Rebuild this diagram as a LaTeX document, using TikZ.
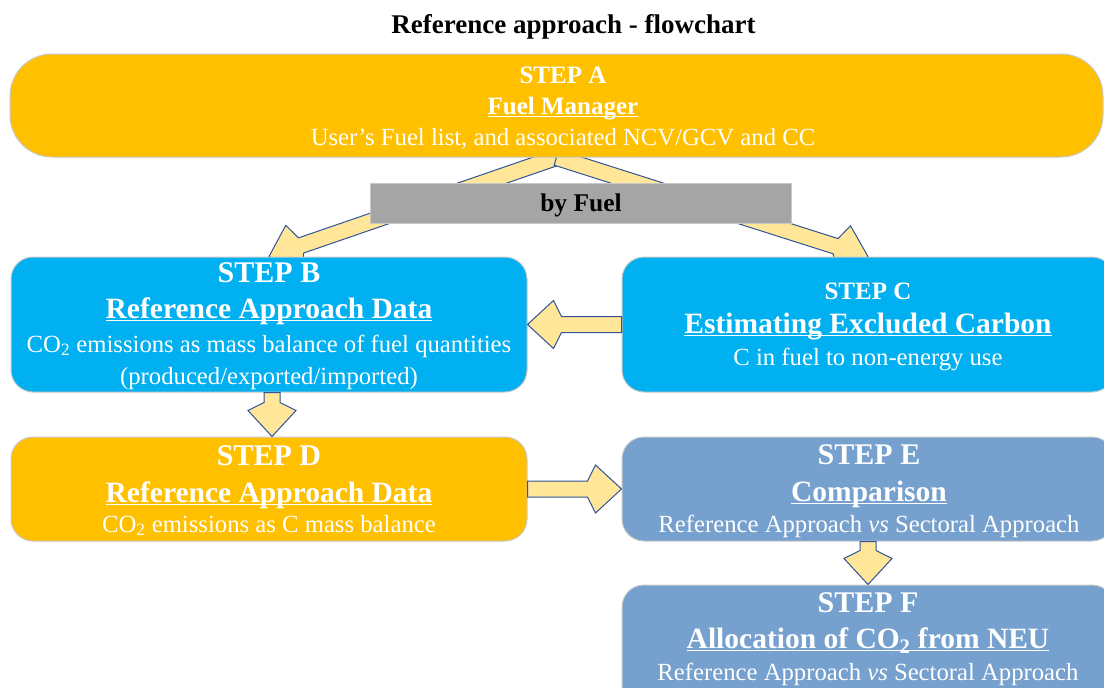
\documentclass[tikz,border=0pt]{standalone}
\usepackage{fontspec}
\setmainfont{Liberation Serif}
\usetikzlibrary{calc}
\pgfdeclarelayer{bg}
\pgfsetlayers{bg,main}
\newsavebox\ulxbox
\newcommand\ulx[1]{\sbox\ulxbox{#1}\rlap{\rule[-3pt]{\wd\ulxbox}{1pt}}\usebox\ulxbox}
\newcommand\fs[1]{\fontsize{#1}{#1}\selectfont}
\definecolor{ambar}{HTML}{FFC000}
\definecolor{cyanbox}{HTML}{00B0F0}
\definecolor{steelbox}{HTML}{76A0CD}
\definecolor{arrfill}{HTML}{FFE699}
\definecolor{arrline}{HTML}{2F5597}
\definecolor{greyband}{HTML}{A5A5A5}
\definecolor{boxedge}{HTML}{C8C8C8}
\tikzset{
  stepbox/.style={draw=boxedge, line width=1pt, rounded corners=22pt, inner sep=0pt},
  txt/.style={anchor=base, inner sep=0pt, text=white},
  bigstep/.style={txt, font=\fs{30}\bfseries},
  smallstep/.style={txt, font=\fs{25}\bfseries},
  headline/.style={txt, font=\fs{29.5}\bfseries},
  bodyline/.style={txt, font=\fs{24.7}},
  blockarrow/.style={fill=arrfill, draw=arrline, line width=1pt, line join=miter},
}
\newcommand\blockarr[2]{%
  \path ($(#2)!34pt!(#1)$) coordinate (hb) ($(#2)!26pt!(#1)$) coordinate (bb);
  \draw[blockarrow] ($(#1)!8pt!90:(#2)$) -- ($(hb)!8pt!90:(#2)$) -- ($(bb)!24pt!90:(#2)$)
    -- (#2) -- ($(bb)!24pt!-90:(#2)$) -- ($(hb)!8pt!-90:(#2)$) -- ($(#1)!8pt!-90:(#2)$) -- cycle;}
\begin{document}
\begin{tikzpicture}[x=1pt,y=-1pt]
\clip (0,0) rectangle (1104,688);

\node[txt, text=black, font=\fs{27}\bfseries] (title) at (573.5,33) {Reference approach - flowchart};

% boxes
\node[stepbox, fill=ambar, rounded corners=42pt, minimum width=1093pt, minimum height=103pt] (A) at (556.5,105.5) {};
\node[stepbox, fill=cyanbox, minimum width=516pt, minimum height=135pt] (B) at (269,324.5) {};
\node[stepbox, fill=cyanbox, minimum width=492pt, minimum height=135pt] (C) at (868,324.5) {};
\node[stepbox, fill=ambar, minimum width=516pt, minimum height=104pt] (D) at (269,489) {};
\node[stepbox, fill=steelbox, minimum width=492pt, minimum height=104pt] (E) at (868,489) {};
\node[stepbox, fill=steelbox, minimum width=492pt, minimum height=125pt] (F) at (868,647.5) {};

% split arrows below boxes
\begin{pgfonlayer}{bg}
\blockarr{A.south}{B.north}
\blockarr{A.south}{C.north}
\end{pgfonlayer}

% band
\node[draw=boxedge, line width=1pt, fill=greyband, minimum width=421pt, minimum height=40pt, inner sep=0pt] (band) at (580.5,203) {};
\node[txt, text=black, font=\fs{25.5}\bfseries] (bandtxt) at (581,211) {by Fuel};

% other arrows
\coordinate (bdtop) at ([xshift=3pt]B.south);
\coordinate (bdend) at ([xshift=3pt]D.north);
\blockarr{C.west}{B.east}
\blockarr{bdtop}{bdend}
\blockarr{D.east}{E.west}
\blockarr{E.south}{F.north}

% texts A
\node[smallstep] (Asl) at (563,83) {STEP A};
\node[smallstep] (Ahd) at (563,114) {\ulx{Fuel Manager}};
\node[bodyline] (Abd) at (563,145) {User’s Fuel list, and associated NCV/GCV and CC};
% B
\node[bigstep] (Bsl) at (269,282) {STEP B};
\node[headline] (Bhd) at (269,318) {\ulx{Reference Approach Data}};
\node[bodyline] (Bbd1) at (269,352) {CO\textsubscript{2} emissions as mass balance of fuel quantities};
\node[bodyline] (Bbd2) at (269,384) {(produced/exported/imported)};
% C
\node[smallstep] (Csl) at (868,299) {STEP C};
\node[headline] (Chd) at (868,333) {\ulx{Estimating Excluded Carbon}};
\node[bodyline] (Cbd) at (868,365) {C in fuel to non-energy use};
% D
\node[bigstep] (Dsl) at (269,465) {STEP D};
\node[headline] (Dhd) at (269,502) {\ulx{Reference Approach Data}};
\node[bodyline] (Dbd) at (269,532) {CO\textsubscript{2} emissions as C mass balance};
% E
\node[bigstep] (Esl) at (869,464) {STEP E};
\node[headline] (Ehd) at (869,501) {\ulx{Comparison}};
\node[bodyline] (Ebd) at (869,532) {Reference Approach \textit{vs} Sectoral Approach};
% F
\node[bigstep] (Fsl) at (868,612) {STEP F};
\node[headline] (Fhd) at (868,648) {\ulx{Allocation of CO\textsubscript{2} from NEU}};
\node[bodyline] (Fbd) at (868,680) {Reference Approach \textit{vs} Sectoral Approach};
\end{tikzpicture}
\end{document}
